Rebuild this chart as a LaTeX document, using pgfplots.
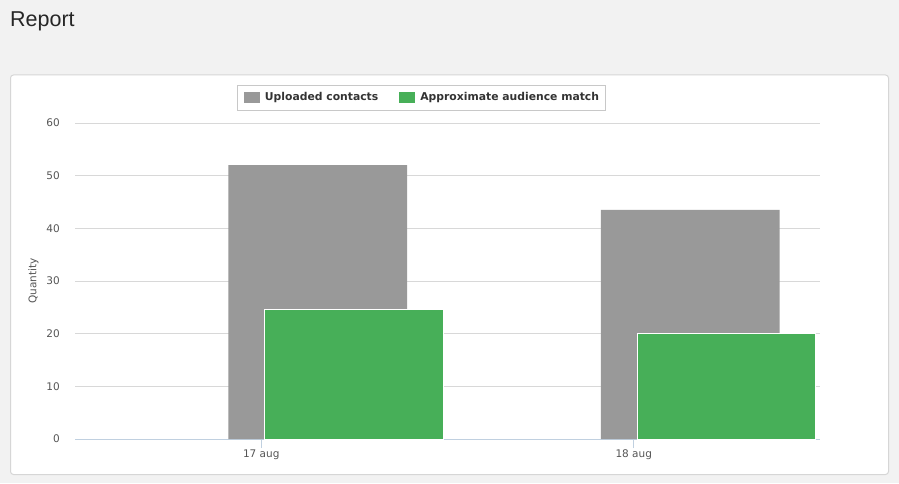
\documentclass[border=0pt]{standalone}
\usepackage{pgfplots}
\pgfplotsset{compat=1.18}
\usepackage{fontspec}
\setmainfont{DejaVu Sans}
\newfontfamily\titlefont{Liberation Sans}
\definecolor{bgcol}{HTML}{F2F2F2}
\definecolor{panelborder}{HTML}{D6D6D6}
\definecolor{gridcol}{HTML}{D8D8D8}
\definecolor{axiscol}{HTML}{C0D0E0}
\definecolor{graybar}{HTML}{999999}
\definecolor{greenbar}{HTML}{47AF58}
\definecolor{labelcol}{HTML}{555555}
\definecolor{legendtext}{HTML}{333333}
\definecolor{legendborder}{HTML}{C8C8C8}
\begin{document}
\begin{tikzpicture}[x=1pt,y=1pt]
\fill[bgcol] (0,0) rectangle (899,483);
\draw[panelborder, fill=white, rounded corners=3pt, line width=1pt] (10.5,8.5) rectangle (888.5,408);
\node[anchor=base west, inner sep=0pt, text=black!85] at (10,456) {\titlefont\fontsize{21.5}{24}\selectfont Report};
\begin{axis}[
  at={(75pt,44pt)}, anchor=south west,
  scale only axis, width=745pt, height=316pt,
  xmin=-0.5, xmax=1.5, ymin=0, ymax=60,
  ytick={0,10,...,60},
  xtick={0,1}, xticklabels={17 aug,18 aug},
  /pgf/number format/assume math mode=true,
  axis lines*=left,
  y axis line style={draw=none},
  x axis line style={draw=axiscol, line width=1pt},
  ymajorgrids, grid style={draw=gridcol, line width=1pt},
  tick align=outside, major tick length=9pt,
  ytick style={draw=none},
  xtick style={draw=axiscol, line width=1pt},
  ticklabel style={font=\fontsize{10.5}{12}\selectfont, text=labelcol},
  yticklabel style={inner sep=0pt, xshift=-6pt},
  xticklabel style={inner sep=0pt, yshift=-2pt},
  ylabel={Quantity},
  ylabel style={font=\fontsize{10.5}{12}\selectfont, text=labelcol,
    at={(axis description cs:-0.0557,0.5)}, anchor=center},
  legend columns=2,
  legend style={at={(0.4644,1.1203)}, anchor=north, draw=legendborder, fill=white,
    font=\bfseries\fontsize{10.8}{12}\selectfont, text=legendtext,
    inner xsep=4pt, inner ysep=5.5pt,
    /tikz/every even column/.append style={column sep=16pt}},
  legend image code/.code={\fill[#1, draw=none] (0pt,-5.5pt) rectangle (16pt,5.5pt);
    \path[draw=none, fill=none] (-3pt,0pt) -- (19pt,0pt);},
]
\addplot[ybar, bar width=0.48, bar shift=0.1515, fill=graybar, draw=none]
  coordinates {(0,52) (1,43.5)};
\addlegendentry{Uploaded contacts}
\addplot[ybar, bar width=0.48, bar shift=0.249, fill=greenbar, draw=white, line width=1pt]
  coordinates {(0,24.5) (1,20)};
\addlegendentry{Approximate audience match}
\end{axis}
\end{tikzpicture}
\end{document}
